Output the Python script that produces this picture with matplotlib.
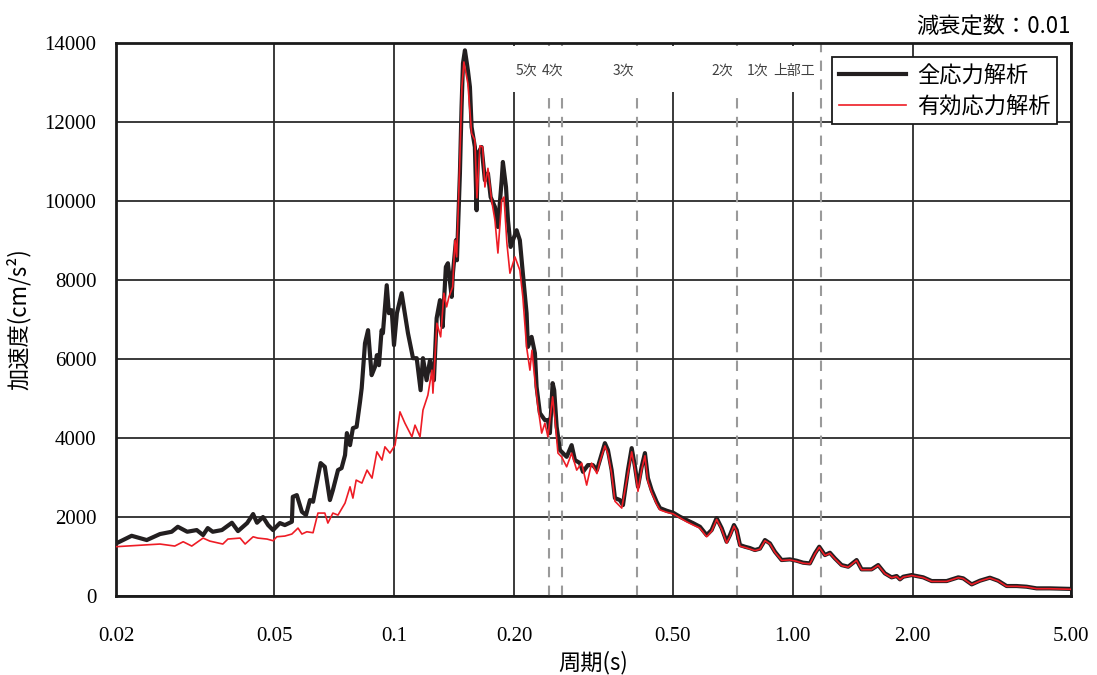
import numpy as np
import matplotlib
matplotlib.use("Agg")
import matplotlib.pyplot as plt
from matplotlib.patches import Rectangle

plt.rcParams['font.family'] = ['Noto Sans CJK JP', 'DejaVu Sans']

# 全応力解析 (周期 s, 加速度 cm/s2)
period_total = [0.0201, 0.0219, 0.0239, 0.0258, 0.0276, 0.0286, 0.0302, 0.0319, 0.0331, 0.0340,
                0.0350, 0.0369, 0.0391, 0.0405, 0.0427, 0.0442, 0.0452, 0.0468, 0.0482, 0.0496,
                0.0516, 0.0531, 0.0553, 0.0556, 0.0569, 0.0586, 0.0600, 0.0614, 0.0625, 0.0653,
                0.0669, 0.0689, 0.0701, 0.0722, 0.0737, 0.0752, 0.0760, 0.0774, 0.0787, 0.0804,
                0.0820, 0.0828, 0.0844, 0.0859, 0.0877, 0.0894, 0.0904, 0.0915, 0.0929, 0.0936,
                0.0957, 0.0969, 0.0985, 0.0998, 0.1015, 0.1043, 0.1082, 0.1114, 0.1138, 0.1164,
                0.1180, 0.1205, 0.1229, 0.1257, 0.1277, 0.1302, 0.1322, 0.1347, 0.1363, 0.1393,
                0.1403, 0.1428, 0.1436, 0.1461, 0.1475, 0.1487, 0.1504, 0.1530, 0.1548, 0.1563,
                0.1593, 0.1609, 0.1621, 0.1656, 0.1688, 0.1718, 0.1745, 0.1789, 0.1820, 0.1860,
                0.1873, 0.1907, 0.1929, 0.1959, 0.1985, 0.2028, 0.2066, 0.2102, 0.2148, 0.2165,
                0.2211, 0.2254, 0.2276, 0.2320, 0.2388, 0.2430, 0.2458, 0.2497, 0.2520, 0.2556,
                0.2605, 0.2708, 0.2787, 0.2841, 0.2924, 0.2976, 0.3062, 0.3152, 0.3226, 0.3282,
                0.3378, 0.3438, 0.3512, 0.3580, 0.3685, 0.3750, 0.3860, 0.3944, 0.4020, 0.4090,
                0.4178, 0.4258, 0.4332, 0.4426, 0.4555, 0.4644, 0.4828, 0.5014, 0.5212, 0.5418,
                0.5620, 0.5852, 0.6083, 0.6261, 0.6445, 0.6634, 0.6829, 0.6961, 0.7124, 0.7236,
                0.7376, 0.7593, 0.7814, 0.8042, 0.8278, 0.8521, 0.8770, 0.9028, 0.9384, 0.9843,
                1.0233, 1.0632, 1.1050, 1.1378, 1.1664, 1.2054, 1.2406, 1.2770, 1.3274, 1.3790,
                1.4476, 1.4900, 1.5784, 1.6400, 1.7048, 1.7724, 1.8244, 1.8598, 1.8956, 1.9898,
                2.128, 2.234, 2.436, 2.606, 2.682, 2.816, 2.952, 3.128, 3.282, 3.446,
                3.652, 3.868, 4.098, 4.426, 5.0]
accel_total = [1340, 1525, 1417, 1569, 1627, 1753, 1627, 1670, 1543, 1720,
               1627, 1670, 1855, 1644, 1847, 2075, 1855, 2000, 1796, 1670,
               1847, 1796, 1880, 2512, 2555, 2133, 2050, 2429, 2386, 3365,
               3271, 2429, 2682, 3188, 3238, 3567, 4124, 3820, 4250, 4283,
               4916, 5262, 6400, 6730, 5591, 5801, 6097, 5844, 6730, 6654,
               7868, 7160, 7236, 6350, 7160, 7666, 6654, 6021, 6021, 5211,
               6021, 5464, 5970, 5464, 7033, 7490, 6814, 8332, 8425, 7573,
               8172, 9007, 8500, 10700, 12380, 13485, 13814, 13308, 12886, 11873,
               11367, 9766, 11207, 11367, 10525, 10700, 10100, 9850, 9343, 10525,
               10988, 10355, 9513, 8838, 9007, 9260, 9007, 8172, 7160, 6307,
               6561, 6148, 5295, 4630, 4453, 4453, 4124, 5389, 5211, 4283,
               3694, 3524, 3820, 3441, 3365, 3145, 3314, 3314, 3188, 3441,
               3870, 3694, 3188, 2480, 2429, 2302, 3188, 3744, 3271, 2765,
               3271, 3618, 2985, 2682, 2386, 2226, 2159, 2108, 2007, 1923,
               1847, 1754, 1543, 1670, 1973, 1720, 1374, 1543, 1796, 1670,
               1290, 1247, 1214, 1164, 1200, 1417, 1332, 1121, 911, 928,
               894, 843, 826, 1079, 1248, 1037, 1096, 953, 784, 742,
               911, 675, 675, 784, 574, 473, 506, 422, 489, 531,
               473, 379, 379, 473, 447, 295, 387, 464, 387, 253,
               253, 236, 194, 194, 180]

# 有効応力解析
period_eff = [0.0201, 0.0234, 0.0258, 0.0281, 0.0295, 0.0310, 0.0331, 0.0344, 0.0371, 0.0382,
              0.0410, 0.0422, 0.0442, 0.0454, 0.0479, 0.0496, 0.0507, 0.0531, 0.0553, 0.0573,
              0.0586, 0.0603, 0.0625, 0.0643, 0.0669, 0.0681, 0.0701, 0.0722, 0.0752, 0.0774,
              0.0787, 0.0802, 0.0829, 0.0854, 0.0879, 0.0904, 0.0931, 0.0947, 0.0975, 0.1004,
              0.1033, 0.1063, 0.1107, 0.1127, 0.1160, 0.1180, 0.1214, 0.1243, 0.1250, 0.1279,
              0.1307, 0.1332, 0.1353, 0.1371, 0.1401, 0.1420, 0.1434, 0.1461, 0.1478, 0.1495,
              0.1530, 0.1563, 0.1593, 0.1612, 0.1640, 0.1666, 0.1688, 0.1718, 0.1755, 0.1789,
              0.1820, 0.1860, 0.1885, 0.1917, 0.1951, 0.2008, 0.2066, 0.2102, 0.2148, 0.2190,
              0.2216, 0.2254, 0.2294, 0.2344, 0.2388, 0.2430, 0.2497, 0.2532, 0.2575, 0.2630,
              0.2708, 0.2787, 0.2870, 0.2954, 0.3040, 0.3128, 0.3226, 0.3282, 0.3378, 0.3438,
              0.3512, 0.3580, 0.3724, 0.3860, 0.3944, 0.4020, 0.4090, 0.4178, 0.4258, 0.4332,
              0.4426, 0.4555, 0.4644, 0.4828, 0.5014, 0.5212, 0.5418, 0.5620, 0.5852, 0.6083,
              0.6261, 0.6445, 0.6634, 0.6829, 0.6961, 0.7124, 0.7236, 0.7376, 0.7593, 0.7814,
              0.8042, 0.8278, 0.8521, 0.8770, 0.9028, 0.9384, 0.9843, 1.0233, 1.0632, 1.1050,
              1.1378, 1.1664, 1.2054, 1.2406, 1.2770, 1.3274, 1.3790, 1.4476, 1.4900, 1.5784,
              1.6400, 1.7048, 1.7724, 1.8244, 1.8598, 1.8956, 1.9898, 2.128, 2.234, 2.436,
              2.606, 2.682, 2.816, 2.952, 3.128, 3.282, 3.446, 3.652, 3.868, 4.098,
              4.426, 5.0]
accel_eff = [1250, 1290, 1316, 1265, 1374, 1265, 1467, 1391, 1316, 1442,
             1467, 1316, 1500, 1467, 1442, 1400, 1500, 1518, 1569, 1720,
             1569, 1627, 1602, 2100, 2100, 1847, 2100, 2049, 2353, 2765,
             2479, 2935, 2859, 3188, 2985, 3651, 3441, 3777, 3618, 3820,
             4663, 4377, 4030, 4326, 4030, 4706, 5085, 5718, 5136, 6907,
             6561, 7666, 7320, 7573, 7826, 9007, 8585, 11114, 12886, 13520,
             12970, 11714, 11540, 10078, 11400, 11367, 10355, 10828, 10018, 9513,
             8683, 10018, 10100, 8931, 8172, 8585, 8248, 7573, 6307, 5718,
             6224, 5464, 4789, 4124, 4377, 4030, 5042, 4453, 3618, 3524,
             3271, 3618, 3188, 3365, 2808, 3365, 3100, 3400, 3800, 3600,
             3100, 2400, 2226, 3100, 3650, 3200, 2650, 3200, 3550, 2900,
             2620, 2330, 2180, 2120, 2080, 1980, 1880, 1800, 1720, 1500,
             1640, 1940, 1690, 1340, 1510, 1770, 1640, 1260, 1230, 1190,
             1150, 1185, 1400, 1320, 1105, 900, 915, 880, 830, 815,
             1065, 1235, 1025, 1080, 940, 770, 730, 900, 665, 665,
             775, 565, 465, 495, 415, 480, 520, 465, 370, 370,
             465, 440, 290, 380, 455, 380, 245, 245, 230, 185,
             185, 170]

# 固有周期の位置
mode_periods = [0.245, 0.264, 0.407, 0.727, 1.18]
mode_labels = ['5次', '4次', '3次', '2次', '1次', '上部工']
mode_label_x = [0.2020, 0.2348, 0.3538, 0.6238, 0.7680, 0.8920]

x_ticks = [0.02, 0.05, 0.1, 0.2, 0.5, 1.0, 2.0, 5.0]
x_ticklabels = ['0.02', '0.05', '0.1', '0.20', '0.50', '1.00', '2.00', '5.00']
y_ticks = list(range(0, 14001, 2000))

fig = plt.figure(figsize=(10.97, 6.75), dpi=100)
ax = fig.add_axes([0.1057, 0.117, 0.8706, 0.8193])

ax.set_xscale('log')
ax.set_xlim(0.02, 5.0)
ax.set_ylim(0, 14000)
ax.set_axisbelow(True)
ax.grid(True, which='major', color='#2b2b2b', lw=1.3)

for p in mode_periods:
    ax.axvline(p, color='#9a9a9a', lw=1.5, ls=(0, (5, 4)), zorder=0.8)

# ラベル部分の白抜き
ax.add_patch(Rectangle((0.1896, 12750), 1.158 - 0.1896, 13915 - 12750,
                       facecolor='white', edgecolor='none', zorder=1))

for lx, lab in zip(mode_label_x, mode_labels):
    ax.text(lx, 13300, lab, fontsize=10, color='#404040', va='center', ha='left', zorder=3)

ax.plot(period_total, accel_total, color='#231f20', lw=3.0, label='全応力解析', zorder=3)
ax.plot(period_eff, accel_eff, color='#ee1c25', lw=1.2, label='有効応力解析', zorder=4)

ax.set_xticks(x_ticks)
ax.set_xticklabels(x_ticklabels, family='Liberation Serif', fontsize=15)
ax.xaxis.set_minor_locator(matplotlib.ticker.NullLocator())
ax.set_yticks(y_ticks)
ax.set_yticklabels([str(v) for v in y_ticks], family='Liberation Serif', fontsize=15)
ax.tick_params(axis='x', length=0, pad=22)
ax.tick_params(axis='y', length=0, pad=14)

for s in ax.spines.values():
    s.set_linewidth(2)
    s.set_color('#1a1a1a')

ax.set_xlabel('周期(s)', fontsize=16, labelpad=4)
ax.set_ylabel('加速度(cm/s²)', fontsize=16, labelpad=10)

ax.text(1.0, 1.01, '減衰定数：0.01', transform=ax.transAxes, ha='right', va='bottom', fontsize=16)

leg = ax.legend(loc='upper right', bbox_to_anchor=(0.9853, 0.9747), borderaxespad=0,
                fancybox=False, framealpha=1, edgecolor='#1a1a1a', fontsize=16,
                handlelength=3.0, borderpad=0.3, labelspacing=0.35, handletextpad=0.5)
leg.get_frame().set_linewidth(1.3)
leg.set_zorder(5)

fig.savefig('out.png', dpi=100)
